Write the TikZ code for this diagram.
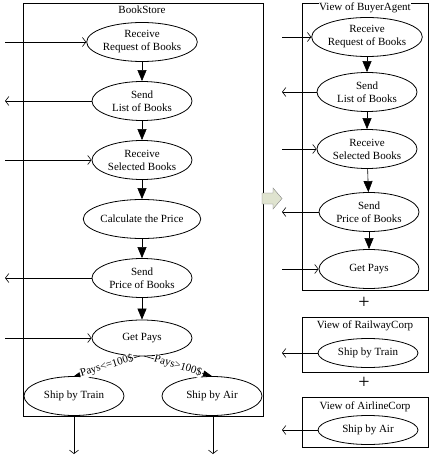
\documentclass[tikz,border=0pt]{standalone}
\usepackage{fontspec}
\setmainfont{Liberation Serif}
\usetikzlibrary{shapes.geometric,arrows.meta}
\definecolor{blockfill}{RGB}{223,227,207}
\begin{document}
\begin{tikzpicture}[x=1pt,y=-1pt,
  act/.style={draw,ellipse,line width=0.8pt,minimum width=100pt,minimum height=39pt,inner sep=0pt,align=center,font=\fontsize{11}{13}\selectfont},
  sact/.style={act,minimum height=29pt},
  box/.style={draw,line width=0.8pt},
  ttl/.style={font=\fontsize{11}{12}\selectfont,inner sep=0pt},
  flow/.style={-{Triangle[length=11pt,width=9pt]},line width=0.6pt},
  msg/.style={-{Straight Barb[length=3.5pt,width=9pt]},line width=0.6pt},
  guard/.style={-{Triangle[length=9pt,width=6pt]},line width=0.6pt},
  glab/.style={sloped,fill=white,inner sep=0.5pt,font=\fontsize{11}{12}\selectfont},
  plus/.style={font=\fontsize{20}{20}\selectfont,inner sep=0pt}]
\useasboundingbox (0,0) rectangle (429,462);
% left box
\draw[box] (23,3) rectangle (263,416);
\node[ttl] (bst) at (142,10) {BookStore};
\node[act] (r1) at (142,42) {Receive\\Request of Books};
\node[act] (s1) at (142,101) {Send\\List of Books};
\node[act] (r2) at (142,160) {Receive\\Selected Books};
\node[act] (calc) at (142,219) {Calculate the Price};
\node[act] (s2) at (142,278) {Send\\Price of Books};
\node[act,minimum height=36pt] (gp) at (142,338) {Get Pays};
\node[act] (train) at (74,396) {Ship by Train};
\node[act] (air) at (212,396) {Ship by Air};
\draw[flow] (r1) -- (s1);
\draw[flow] (s1) -- (r2);
\draw[flow] (r2) -- (calc);
\draw[flow] (calc) -- (s2);
\draw[flow] (s2) -- (gp);
\coordinate (gpl) at (140,356);
\coordinate (gpr) at (144,356);
\draw[guard] (gpl) -- node[glab] {Pays<=100\$} (train.north);
\draw[guard] (gpr) -- node[glab] {Pays>100\$} (air.north);
\coordinate (i1) at (5,42);
\coordinate (o1) at (5,101);
\coordinate (i2) at (5,160);
\coordinate (o2) at (5,278);
\coordinate (i3) at (5,338);
\coordinate (dt) at (74,454);
\coordinate (da) at (213,454);
\draw[msg] (i1) -- (r1);
\draw[msg] (s1) -- (o1);
\draw[msg] (i2) -- (r2);
\draw[msg] (s2) -- (o2);
\draw[msg] (i3) -- (gp);
\draw[msg] (74,416) -- (dt);
\draw[msg] (213,416) -- (da);
% block arrow
\draw[fill=blockfill,draw=black!50] (262,193) -- (273,193) -- (273,188) -- (282,198.5) -- (273,209) -- (273,204) -- (262,204) -- cycle;
% right: BuyerAgent view
\draw[box] (302,3) rectangle (428,290);
\node[ttl,fill=white,inner sep=0.5pt] (vb) at (365,8) {View of BuyerAgent};
\node[act] (br1) at (367,37) {Receive\\Request of Books};
\node[act] (bs1) at (367,92) {Send\\List of Books};
\node[act] (br2) at (367,149) {Receive\\Selected Books};
\node[act] (bs2) at (369,212) {Send\\Price of Books};
\node[act] (bgp) at (369,269) {Get Pays};
\draw[flow] (br1) -- (bs1);
\draw[flow] (bs1) -- (br2);
\draw[flow] (br2) -- (bs2);
\draw[flow] (bs2) -- (bgp);
\coordinate (bi1) at (282,37);
\coordinate (bo1) at (282,92);
\coordinate (bi2) at (282,149);
\coordinate (bo2) at (282,212);
\coordinate (bi3) at (282,269);
\draw[msg] (bi1) -- (br1);
\draw[msg] (bs1) -- (bo1);
\draw[msg] (bi2) -- (br2);
\draw[msg] (bs2) -- (bo2);
\draw[msg] (bi3) -- (bgp);
\node[plus] (p1) at (364,303) {+};
% RailwayCorp view
\draw[box] (302,317) rectangle (428,372);
\node[ttl] (vr) at (365,326) {View of RailwayCorp};
\node[sact] (rt) at (368,353) {Ship by Train};
\coordinate (ro) at (282,353);
\draw[msg] (rt) -- (ro);
\node[plus] (p2) at (364,383) {+};
% AirlineCorp view
\draw[box] (302,397) rectangle (428,447);
\node[ttl] (va) at (365,407) {View of AirlineCorp};
\node[sact] (ra) at (368,430) {Ship by Air};
\coordinate (ao) at (282,430);
\draw[msg] (ra) -- (ao);
\end{tikzpicture}
\end{document}
